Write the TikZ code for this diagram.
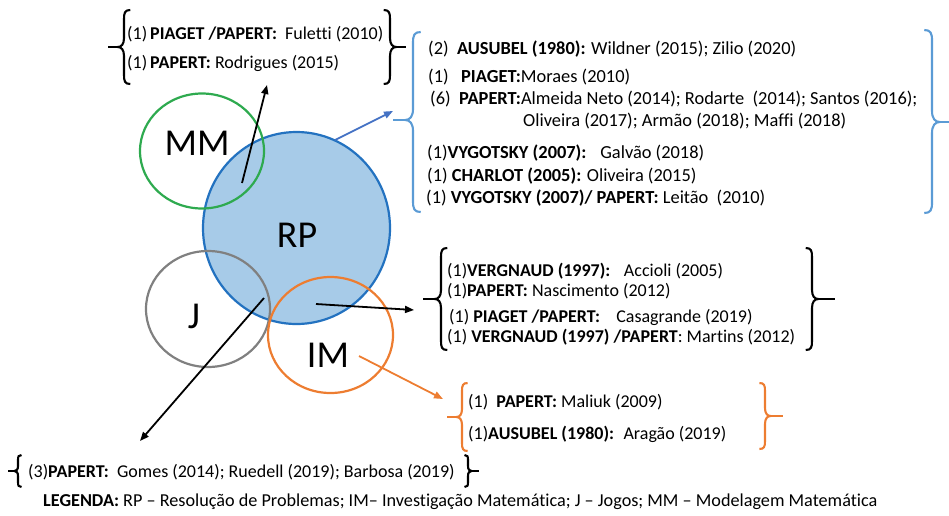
\documentclass[tikz,border=0pt]{standalone}
\usepackage{fontspec}
\setmainfont{Carlito}[Ligatures=CommonOff]
\usetikzlibrary{arrows.meta,shapes.geometric}
\definecolor{mmgreen}{HTML}{2EAA4F}
\definecolor{rpblue}{HTML}{2372C0}
\definecolor{rpfill}{HTML}{A7CBE8}
\definecolor{jgray}{HTML}{808080}
\definecolor{imorange}{HTML}{ED7D31}
\definecolor{bracblue}{HTML}{5B9BD5}
\definecolor{arrblue}{HTML}{4472C4}
% left brace: style, curl x, top, bottom, mid, tip x, radius
\newcommand{\LeftBr}[7]{%
  \draw[#1] ({#2+0.7*#7},{#3}) .. controls ({#2+0.1*#7},{#3}) and ({#2},{#3+0.3*#7}) .. ({#2},{#3+#7})
    -- ({#2},{#5-#7}) .. controls ({#2},{#5-0.3*#7}) and ({#2-0.3*#7},{#5}) .. ({#2-0.7*#7},{#5})
    .. controls ({#2-0.3*#7},{#5}) and ({#2},{#5+0.3*#7}) .. ({#2},{#5+#7})
    -- ({#2},{#4-#7}) .. controls ({#2},{#4-0.3*#7}) and ({#2+0.1*#7},{#4}) .. ({#2+0.7*#7},{#4});
  \draw[#1] ({#2-0.7*#7},{#5}) -- ({#6},{#5});}
\newcommand{\RightBr}[7]{%
  \draw[#1] ({#2-0.7*#7},{#3}) .. controls ({#2-0.1*#7},{#3}) and ({#2},{#3+0.3*#7}) .. ({#2},{#3+#7})
    -- ({#2},{#5-#7}) .. controls ({#2},{#5-0.3*#7}) and ({#2+0.3*#7},{#5}) .. ({#2+0.7*#7},{#5})
    .. controls ({#2+0.3*#7},{#5}) and ({#2},{#5+0.3*#7}) .. ({#2},{#5+#7})
    -- ({#2},{#4-#7}) .. controls ({#2},{#4-0.3*#7}) and ({#2-0.1*#7},{#4}) .. ({#2-0.7*#7},{#4});
  \draw[#1] ({#2+0.7*#7},{#5}) -- ({#6},{#5});}
\begin{document}
\begin{tikzpicture}[x=1pt,y=-1pt,
  txt/.style={anchor=base west, inner sep=0pt, font=\fontsize{18}{20}\selectfont},
  txtb/.style={anchor=base west, inner sep=0pt, font=\fontsize{18.4}{20}\selectfont},
  big/.style={inner sep=0pt, font=\fontsize{38}{40}\selectfont},
  circ/.style={ellipse, line width=2.2pt, inner sep=0pt},
  arr/.style={-{Triangle[length=9pt,width=7pt]}, line width=1.8pt},
  brk/.style={line width=2.1pt, black},
  brb/.style={line width=2.1pt, bracblue},
  bro/.style={line width=2.1pt, imorange}]
\useasboundingbox (0,0) rectangle (949,515);
% circles
\node[circ, draw=rpblue, fill=rpfill, minimum width=187pt, minimum height=192pt] (RP) at (296.5,228) {};
\node[circ, draw=mmgreen, minimum width=124pt, minimum height=115pt] (MM) at (202,151) {};
\node[circ, draw=jgray, minimum width=124pt, minimum height=116pt] (J) at (208,309) {};
\node[circ, draw=imorange, minimum width=125pt, minimum height=116pt] (IM) at (330.5,335) {};
\node[big] (lMM) at (197,143) {MM};
\node[big] (lRP) at (297,235) {RP};
\node[big] (lJ) at (194,316) {J};
\node[big] (lIM) at (328,355) {IM};
% arrow end points
\coordinate (a1s) at (242,183); \coordinate (a1e) at (267,85);
\coordinate (a2s) at (335,140); \coordinate (a2e) at (393,111);
\coordinate (a3s) at (316,304); \coordinate (a3e) at (414,310);
\coordinate (a4s) at (359,356); \coordinate (a4e) at (443,399);
\coordinate (a5s) at (264,298); \coordinate (a5e) at (140,441);
\draw[arr] (a1s) -- (a1e);
\draw[arr, arrblue] (a2s) -- (a2e);
\draw[arr] (a3s) -- (a3e);
\draw[arr, imorange] (a4s) -- (a4e);
\draw[arr] (a5s) -- (a5e);
% top-left group
\LeftBr{brk}{124}{10}{84}{47}{108}{9}
\RightBr{brk}{390}{10}{84}{47}{406}{9}
\node[txt] (t1) at (127,39) {(1)\,\textbf{PIAGET /PAPERT:}~ Fuletti (2010)};
\node[txt] (t2) at (127,68) {(1)\,\textbf{PAPERT:} Rodrigues (2015)};
% blue group
\LeftBr{brb}{413}{32}{212}{120}{393}{11}
\RightBr{brb}{932}{30}{213}{122}{949}{11}
\node[txtb] (b1) at (428,54) {(2)~~\textbf{AUSUBEL (1980):} Wildner (2015); Zilio (2020)};
\node[txtb] (b2) at (428,82) {(1)~~~\textbf{PIAGET:}Moraes (2010)};
\node[txtb] (b3) at (430,104) {(6)~~\textbf{PAPERT:}Almeida Neto (2014); Rodarte~ (2014); Santos (2016);};
\node[txtb] (b4) at (523,126) {Oliveira (2017); Armão (2018); Maffi (2018)};
\node[txtb] (b5) at (427,158) {(1)\textbf{VYGOTSKY (2007):}~~ Galvão (2018)};
\node[txtb] (b6) at (427,181) {(1) \textbf{CHARLOT (2005):} Oliveira (2015)};
\node[txtb] (b7) at (426,203) {(1) \textbf{VYGOTSKY (2007)/ PAPERT:} Leitão~ (2010)};
% middle group
\LeftBr{brk}{441}{248}{350}{299}{423}{9}
\RightBr{brk}{812}{248}{350}{299}{835}{9}
\node[txt] (m1) at (447,276) {(1)\textbf{VERGNAUD (1997):}~~ Accioli (2005)};
\node[txt] (m2) at (447,296) {(1)\textbf{PAPERT:} Nascimento (2012)};
\node[txt] (m3) at (449,322) {(1) \textbf{PIAGET /PAPERT:}~~~ Casagrande (2019)};
\node[txt] (m4) at (447,342) {(1) \textbf{VERGNAUD (1997) /PAPERT}: Martins (2012)};
% orange group
\LeftBr{bro}{462}{383}{451}{417}{447}{8}
\RightBr{bro}{765}{383}{449}{416}{783}{8}
\node[txt] (o1) at (468,407) {(1)~~\textbf{PAPERT:} Maliuk (2009)};
\node[txt] (o2) at (468,439) {(1)\textbf{AUSUBEL (1980):}~ Aragão (2019)};
% bottom group
\LeftBr{brk}{18}{455}{487}{471}{8}{5}
\RightBr{brk}{468}{455}{487}{471}{479}{5}
\node[txt] (g1) at (28,477) {(3)\textbf{PAPERT:}~ Gomes (2014); Ruedell (2019); Barbosa (2019)};
% legend
\node[txt, font=\fontsize{18.2}{20}\selectfont] (leg) at (43,506) {\textbf{LEGENDA:} RP – Resolução de Problemas; IM– Investigação Matemática; J – Jogos; MM – Modelagem Matemática};
\end{tikzpicture}
\end{document}
